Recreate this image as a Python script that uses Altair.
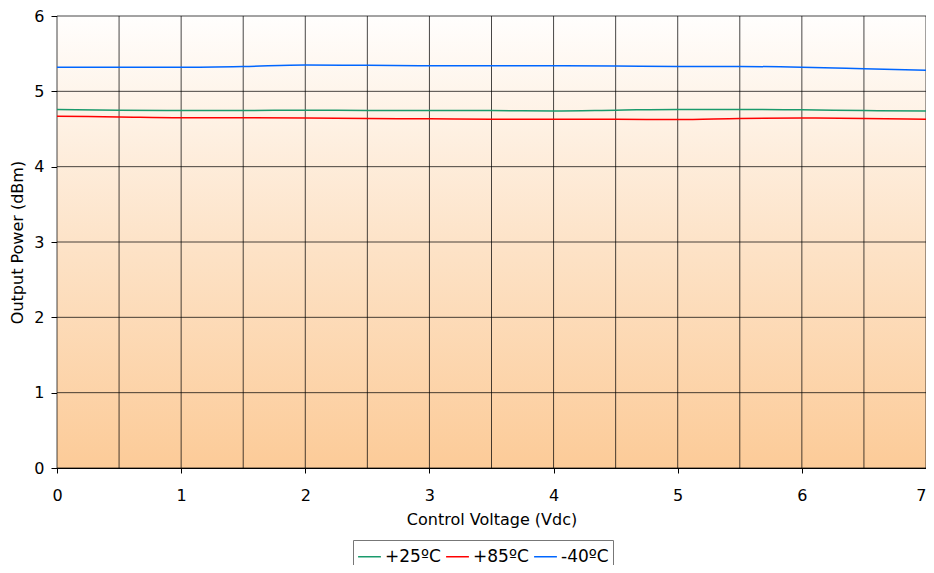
import altair as alt
import pandas as pd

voltage = [0, 0.5, 1, 1.5, 2, 2.5, 3, 3.5, 4, 4.5, 5, 5.5, 6, 6.5, 7]
p25 = [4.76, 4.75, 4.745, 4.745, 4.75, 4.745, 4.745, 4.745, 4.74, 4.75, 4.76, 4.76, 4.755, 4.745, 4.74]
p85 = [4.67, 4.66, 4.65, 4.65, 4.645, 4.64, 4.635, 4.63, 4.63, 4.63, 4.625, 4.64, 4.645, 4.64, 4.63]
m40 = [5.32, 5.32, 5.32, 5.33, 5.35, 5.345, 5.34, 5.34, 5.34, 5.335, 5.33, 5.33, 5.32, 5.30, 5.28]
series = ["+25ºC", "+85ºC", "-40ºC"]
colors = ["#1a9a6c", "#ff0000", "#0066ff"]
xticks = [0, 1, 2, 3, 4, 5, 6, 7]
yticks = [0, 1, 2, 3, 4, 5, 6]

rows = []
for name, vals in zip(series, [p25, p85, m40]):
    for v, p in zip(voltage, vals):
        rows.append({"v": v, "p": p, "s": name})
df = pd.DataFrame(rows)

bg = pd.DataFrame([{"v": 0, "v2": 7, "p": 0, "p2": 6}])
vgrid_df = pd.DataFrame({"v": voltage})
hgrid_df = pd.DataFrame({"p": yticks})

FONT = "DejaVu Sans"

xscale = alt.Scale(domain=[0, 7], nice=False)
yscale = alt.Scale(domain=[0, 6], nice=False)
xaxis = alt.Axis(values=xticks, grid=False, tickSize=5, labelPadding=14, titlePadding=8,
                 domainColor="#000", tickColor="#000",
                 labelAlign=alt.ExprRef(expr="datum.value == 7 ? 'right' : 'center'"))
yaxis = alt.Axis(values=yticks, grid=False, tickSize=6, labelPadding=7, titlePadding=8,
                 domain=False, tickColor="#000")
XT = "Control Voltage (Vdc)"
YT = "Output Power (dBm)"

back = alt.Chart(bg).mark_rect(
    fill=alt.Gradient(
        gradient="linear",
        stops=[alt.GradientStop(color="#fffefd", offset=0),
               alt.GradientStop(color="#fde3c8", offset=0.5),
               alt.GradientStop(color="#fccb98", offset=1)],
        x1=0, x2=0, y1=0, y2=1,
    )
).encode(
    x=alt.X("v:Q", scale=xscale, title=XT, axis=xaxis),
    x2="v2",
    y=alt.Y("p:Q", scale=yscale, title=YT, axis=yaxis),
    y2="p2",
)

vgrid = alt.Chart(vgrid_df).mark_rule(color="#000000", strokeWidth=1, opacity=0.72).encode(
    x=alt.X("v:Q", scale=xscale, title=XT, axis=xaxis)
)
hgrid = alt.Chart(hgrid_df).mark_rule(color="#000000", strokeWidth=1, opacity=0.72).encode(
    y=alt.Y("p:Q", scale=yscale, title=YT, axis=yaxis)
)

lines = alt.Chart(df).mark_line(interpolate="monotone", strokeWidth=1.5).encode(
    x=alt.X("v:Q", scale=xscale, title=XT, axis=xaxis),
    y=alt.Y("p:Q", scale=yscale, title=YT, axis=yaxis),
    color=alt.Color("s:N", scale=alt.Scale(domain=series, range=colors),
                    legend=alt.Legend(title=None, orient="none", legendX=296, legendY=524,
                                      direction="horizontal", symbolType="stroke",
                                      symbolStrokeWidth=1.5, symbolSize=520,
                                      labelFontSize=17, labelFont=FONT, labelColor="#000",
                                      strokeColor="#777", padding=4, columnPadding=2,
                                      labelOffset=3)),
)

chart = alt.layer(back, vgrid, hgrid, lines).properties(
    width=869, height=452,
    background="white",
    autosize=alt.AutoSizeParams(type="none"),
    padding={"left": 49, "top": 8, "right": 0, "bottom": 97},
).configure_view(stroke="#000", strokeWidth=1).configure_axis(
    labelFont=FONT, titleFont=FONT, labelFontSize=16, titleFontSize=16,
    labelColor="#000", titleColor="#000", titleFontWeight="normal",
)

chart.save("out.html", embed_options={"renderer": "svg", "actions": False})
